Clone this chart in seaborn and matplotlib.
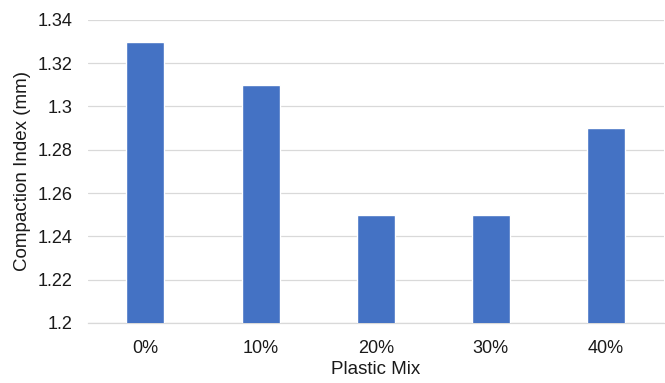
import matplotlib
matplotlib.use("Agg")
import matplotlib.pyplot as plt
import seaborn as sns
import pandas as pd

# --- data ---
mixes = ["0%", "10%", "20%", "30%", "40%"]
compaction = [1.33, 1.31, 1.25, 1.25, 1.29]
y_ticks = [1.2, 1.22, 1.24, 1.26, 1.28, 1.3, 1.32, 1.34]
y_labels = ["1.2", "1.22", "1.24", "1.26", "1.28", "1.3", "1.32", "1.34"]

df = pd.DataFrame({"mix": mixes, "value": compaction})

sns.set_style("white")
plt.rcParams["font.family"] = ["Liberation Sans", "DejaVu Sans"]

fig = plt.figure(figsize=(6.65, 3.83), dpi=100)
ax = fig.add_axes([0.132, 0.157, 0.866, 0.791])

sns.barplot(data=df, x="mix", y="value", color="#4472C4", width=0.33,
            saturation=1, ax=ax, zorder=3)

ax.set_ylim(1.2, 1.34)
ax.set_xlim(-0.5, 4.5)
ax.set_yticks(y_ticks)
ax.set_yticklabels(y_labels)
ax.yaxis.grid(True, color="#D9D9D9", linewidth=0.9, zorder=0)
ax.set_axisbelow(True)

for s in ["top", "right", "left"]:
    ax.spines[s].set_visible(False)
ax.spines["bottom"].set_color("#D9D9D9")
ax.spines["bottom"].set_linewidth(0.9)

ax.tick_params(axis="both", length=0, labelsize=13, colors="#1a1a1a")
ax.tick_params(axis="y", pad=11)
ax.tick_params(axis="x", pad=12)
ax.set_xlabel("Plastic Mix", fontsize=13.5, color="#1a1a1a", labelpad=3)
ax.set_ylabel("Compaction Index (mm)", fontsize=13.5, color="#1a1a1a", labelpad=5)

fig.savefig("out.png", dpi=100)
